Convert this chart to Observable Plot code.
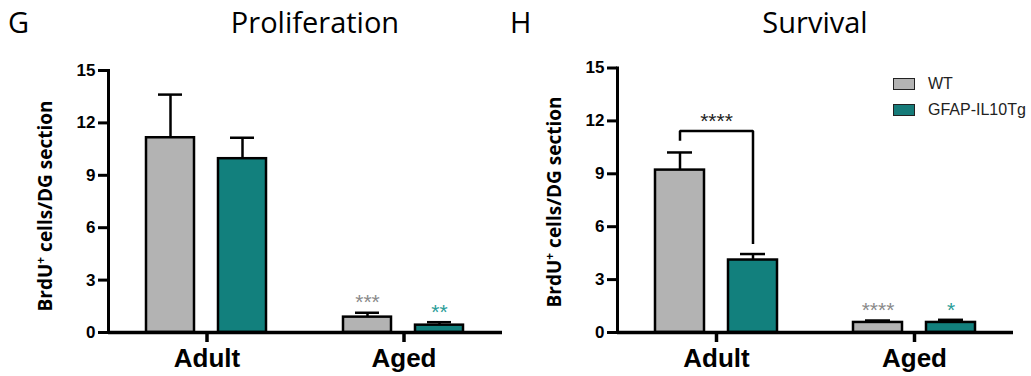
<!DOCTYPE html>
<html><head><meta charset="utf-8">
<script src="https://cdn.jsdelivr.net/npm/d3@7"></script>
<script src="https://cdn.jsdelivr.net/npm/@observablehq/plot@0.6"></script>
<style>
body{margin:0;background:#fff;}
#wrap{position:relative;width:1031px;height:376px;overflow:hidden;background:#fff;}
.panel{position:absolute;top:0;}
.panel svg{overflow:visible;}
#overlay{position:absolute;left:0;top:0;pointer-events:none;}
.legend{position:absolute;font-family:"Liberation Sans",Arial,sans-serif;font-size:16px;color:#222;}
.legend .row{position:absolute;white-space:nowrap;height:14px;}
.legend .sw{position:absolute;left:0;top:0;width:20px;height:10px;border:1.6px solid #222;}
.legend .lab{position:absolute;left:35px;top:-3px;}
</style></head>
<body>
<div id="wrap">
  <div class="panel" id="p1" style="left:0px"></div>
  <div class="panel" id="p2" style="left:515px"></div>
  <svg id="overlay" width="1031" height="376"></svg>
  <div class="legend" style="left:893px;top:78px;">
    <div class="row" style="top:0"><div class="sw" style="background:#b3b3b3"></div><div class="lab">WT</div></div>
    <div class="row" style="top:26px"><div class="sw" style="background:#167b79"></div><div class="lab">GFAP-IL10Tg</div></div>
  </div>
</div>
<script>
// ---- data ----
const groups = ["Adult", "Aged"];
const genotypes = ["WT", "GFAP-IL10Tg"];
const yTicks = [0, 3, 6, 9, 12, 15];
// order: Adult WT, Adult Tg, Aged WT, Aged Tg
const prolifMean = [11.15, 9.95, 0.88, 0.42];
const prolifSem  = [2.47, 1.20, 0.25, 0.17];
const prolifStars = ["", "", "***", "**"];
const survMean = [9.21, 4.11, 0.57, 0.57];
const survSem  = [1.00, 0.34, 0.11, 0.15];
const survStars = ["", "", "****", "*"];
// significance bracket (Survival, Adult WT vs Tg)
const bracketGenos = ["WT", "WT", "GFAP-IL10Tg", "GFAP-IL10Tg"];
const bracketY = [10.87, 11.43, 11.43, 5.02];
const bracketLabel = "****";
const barFills = ["#b3b3b3", "#12807d"];
const starFills = ["#8a8a8a", "#2a9d98"];

function rowsOf(means, sems, stars) {
  return groups.flatMap((g, gi) => genotypes.map((t, ti) => ({
    group: g, geno: t, mean: means[gi * 2 + ti], sem: sems[gi * 2 + ti],
    top: means[gi * 2 + ti] + sems[gi * 2 + ti], star: stars[gi * 2 + ti]
  })));
}

const axisFont = "Liberation Sans, Arial, sans-serif";

function panel({means, sems, stars, width, marginLeft, marginRight, marginTop, bracket}) {
  const rows = rowsOf(means, sems, stars);
  const marks = [
    Plot.axisY({ticks: yTicks, tickSize: 10, tickPadding: 3, strokeWidth: 3, fontSize: 17, fontWeight: "bold", fontFamily: axisFont, label: null}),
    Plot.axisFx({anchor: "bottom", tickSize: 10, tickPadding: 6, strokeWidth: 3.5, fontSize: 26, fontWeight: "bold", fontFamily: axisFont, label: null}),
    Plot.frame({anchor: "left", facetAnchor: "left", stroke: "black", strokeWidth: 3}),
    Plot.ruleX(rows, {fx: "group", x: "geno", y1: "mean", y2: "top", stroke: "black", strokeWidth: 2.5}),
    Plot.tickY(rows, {fx: "group", x: "geno", y: "top", inset: 12, stroke: "black", strokeWidth: 2.5}),
    Plot.barY(rows, {fx: "group", x: "geno", y: "mean", fill: "geno", stroke: "black", strokeWidth: 2.5}),
    Plot.ruleY([0], {stroke: "black", strokeWidth: 3.5}),
  ];
  genotypes.forEach((t, ti) => {
    marks.push(Plot.text(rows.filter(d => d.geno === t && d.star), {
      fx: "group", x: "geno", y: "top", text: "star", dy: -10,
      fill: starFills[ti], fontSize: 21, fontFamily: axisFont, fontWeight: "normal"
    }));
  });
  if (bracket) {
    const pts = bracketGenos.map((g, i) => ({group: "Adult", geno: g, y: bracketY[i]}));
    marks.push(Plot.line(pts, {fx: "group", x: "geno", y: "y", stroke: "black", strokeWidth: 2.5, strokeLinejoin: "miter", strokeLinecap: "butt"}));
    marks.push(Plot.text([{group: "Adult"}], {fx: "group", y: Math.max(...bracketY), text: () => bracketLabel, dy: -10,
      fill: "#222", fontSize: 21, fontFamily: axisFont, fontWeight: "normal"}));
  }
  return Plot.plot({
    width, height: 376, marginTop, marginBottom: 44, marginLeft, marginRight,
    style: {fontFamily: axisFont, color: "black", background: "transparent", overflow: "visible"},
    fx: {domain: groups, padding: 0, label: null, axis: null},
    x: {domain: genotypes, paddingInner: 0.33, paddingOuter: 0.52, axis: null},
    y: {domain: [0, 15], label: null, axis: null},
    color: {domain: genotypes, range: barFills},
    marks
  });
}

document.getElementById("p1").appendChild(panel({
  means: prolifMean, sems: prolifSem, stars: prolifStars,
  width: 515, marginLeft: 108, marginRight: 13, marginTop: 70, bracket: false
}));
document.getElementById("p2").appendChild(panel({
  means: survMean, sems: survSem, stars: survStars,
  width: 516, marginLeft: 102, marginRight: 18, marginTop: 67.5, bracket: true
}));

// ---- titles and axis labels ----
const ov = d3.select("#overlay");
const titleFont = "'Open Sans', sans-serif";
[["G", 8, 33, "start"], ["H", 510, 33, "start"], ["Proliferation", 315, 33, "middle"], ["Survival", 815, 33, "middle"]]
  .forEach(([t, x, y, a]) => ov.append("text").attr("x", x).attr("y", y).attr("text-anchor", a)
    .attr("font-family", titleFont).attr("font-size", 29).attr("fill", "#000").text(t));
[[52, 206], [561, 202]].forEach(([x, y]) => {
  const t = ov.append("text").attr("transform", `translate(${x},${y}) rotate(-90)`).attr("text-anchor", "middle")
    .attr("font-family", titleFont).attr("font-weight", "bold").attr("font-size", 19).attr("fill", "#000");
  t.append("tspan").text("BrdU");
  t.append("tspan").attr("font-size", 12).attr("dy", -7).text("+");
  t.append("tspan").attr("dy", 7).text(" cells/DG section");
});
</script>
</body></html>
